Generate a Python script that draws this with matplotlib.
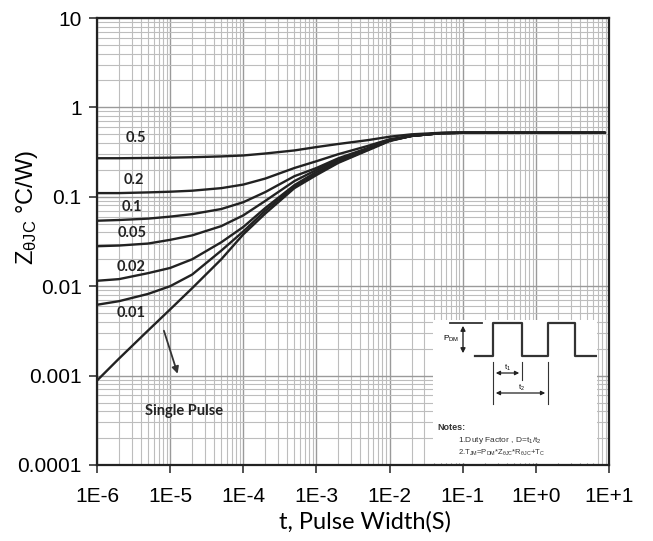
import matplotlib
matplotlib.use("Agg")
import matplotlib.pyplot as plt
from matplotlib.ticker import LogLocator, FixedLocator, NullFormatter
import numpy as np

# pulse width (s)
t = [1e-6, 2e-6, 5e-6, 1e-5, 2e-5, 5e-5, 1e-4, 2e-4, 5e-4, 1e-3, 2e-3, 5e-3,
     1e-2, 2e-2, 5e-2, 1e-1, 1, 8.8]

# transient thermal impedance for each duty factor
z_05 = [0.270, 0.270, 0.272, 0.274, 0.277, 0.283, 0.29, 0.305, 0.33, 0.36, 0.39, 0.43,
        0.47, 0.50, 0.52, 0.52, 0.52, 0.52]
z_02 = [0.110, 0.110, 0.112, 0.114, 0.117, 0.125, 0.137, 0.16, 0.21, 0.25, 0.30, 0.37,
        0.44, 0.48, 0.515, 0.52, 0.52, 0.52]
z_01 = [0.054, 0.055, 0.057, 0.060, 0.064, 0.073, 0.087, 0.113, 0.17, 0.21, 0.27, 0.35,
        0.43, 0.48, 0.515, 0.52, 0.52, 0.52]
z_005 = [0.028, 0.0285, 0.030, 0.033, 0.037, 0.047, 0.062, 0.09, 0.15, 0.20, 0.26, 0.345,
         0.43, 0.48, 0.515, 0.52, 0.52, 0.52]
z_002 = [0.0115, 0.012, 0.014, 0.016, 0.020, 0.031, 0.046, 0.075, 0.135, 0.19, 0.25, 0.34,
         0.425, 0.48, 0.515, 0.52, 0.52, 0.52]
z_001 = [0.0062, 0.0068, 0.0082, 0.010, 0.0135, 0.025, 0.041, 0.07, 0.13, 0.18, 0.245, 0.335,
         0.425, 0.48, 0.515, 0.52, 0.52, 0.52]
z_single = [0.00088, 0.00155, 0.0032, 0.0055, 0.0095, 0.020, 0.038, 0.065, 0.125, 0.175, 0.24, 0.33,
            0.42, 0.48, 0.515, 0.52, 0.52, 0.52]

curves = [z_05, z_02, z_01, z_005, z_002, z_001, z_single]
duty_labels = ["0.5", "0.2", "0.1", "0.05", "0.02", "0.01"]
duty_label_pos = [(3.4e-6, 0.46), (3.2e-6, 0.155), (3.0e-6, 0.076), (3.0e-6, 0.039),
                  (2.95e-6, 0.0162), (2.95e-6, 0.0050)]

xticks = [1e-6, 1e-5, 1e-4, 1e-3, 1e-2, 1e-1, 1, 10]
xticklabels = ["1E-6", "1E-5", "1E-4", "1E-3", "1E-2", "1E-1", "1E+0", "1E+1"]
yticks = [1e-4, 1e-3, 1e-2, 1e-1, 1, 10]
yticklabels = ["0.0001", "0.001", "0.01", "0.1", "1", "10"]

plt.rcParams['mathtext.fontset'] = 'custom'
plt.rcParams['mathtext.rm'] = 'Liberation Sans'
plt.rcParams['mathtext.it'] = 'Liberation Sans'

fig = plt.figure(figsize=(6.53, 5.41), dpi=100)
ax = fig.add_axes([97/653, 1 - 465/541, 512/653, 447/541])
ax.set_xscale('log')
ax.set_yscale('log')
ax.set_xlim(1e-6, 10)
ax.set_ylim(1e-4, 10)

for z in curves:
    ax.plot(t, z, color='#222222', lw=1.7, solid_capstyle='round')

ax.xaxis.set_major_locator(FixedLocator(xticks))
ax.yaxis.set_major_locator(FixedLocator(yticks))
ax.xaxis.set_minor_locator(LogLocator(base=10, subs=np.arange(2, 10)))
ax.yaxis.set_minor_locator(LogLocator(base=10, subs=np.arange(2, 10)))
ax.xaxis.set_minor_formatter(NullFormatter())
ax.yaxis.set_minor_formatter(NullFormatter())
ax.set_xticklabels(xticklabels, fontsize=15, family='Liberation Sans')
ax.set_yticklabels(yticklabels, fontsize=15, family='Liberation Sans')
ax.tick_params(which='major', length=6, width=1.2, color='#333333')
ax.tick_params(axis='x', which='major', pad=10)
ax.tick_params(axis='y', which='major', pad=5)
ax.tick_params(which='minor', length=0)
ax.grid(which='major', color='#9a9a9a', lw=1.0)
ax.grid(which='minor', color='#bdbdbd', lw=0.8)
ax.set_axisbelow(True)
for s in ax.spines.values():
    s.set_linewidth(1.6)
    s.set_color('#222222')

ax.set_xlabel("t, Pulse Width(S)", fontsize=17, family='Lato')
ax.xaxis.set_label_coords(0.523, -0.103)
ax.set_ylabel(r"Z$_{\mathregular{\theta JC}}$ °C/W)", fontsize=17, family='Liberation Sans')
ax.yaxis.set_label_coords(-0.137, 0.577)
ax.yaxis.label.set_va('center')

for lab, (x, y) in zip(duty_labels, duty_label_pos):
    ax.text(x, y, lab, fontsize=10.5, fontweight='bold', family='Lato',
            ha='center', va='center', color='#222222')
ax.text(1.55e-5, 0.0004, "Single Pulse", fontsize=10.5, fontweight='bold', family='Lato',
        ha='center', va='center', color='#222222')
ax.annotate("", xy=(1.3e-5, 0.00098), xytext=(8.0e-6, 0.0034),
            arrowprops=dict(arrowstyle='-|>', color='#333333', lw=1.3, mutation_scale=10))

# pulse diagram inset (drawn in pixel units)
ins = fig.add_axes([433/653, 1 - 463/541, 164/653, 143/541])
ins.set_xlim(433, 597)
ins.set_ylim(463, 320)
ins.set_facecolor('white')
ins.set_xticks([])
ins.set_yticks([])
for s in ins.spines.values():
    s.set_visible(False)

wave_x = [475, 493, 493, 522, 522, 548, 548, 575, 575, 597]
wave_y = [356, 356, 323, 323, 356, 356, 323, 323, 356, 356]
ins.plot(wave_x, wave_y, color='#333333', lw=1.6)
ins.plot([450, 482], [323, 323], color='#333333', lw=1.3)
ins.annotate("", xy=(463, 323), xytext=(463, 356),
             arrowprops=dict(arrowstyle='<|-|>', color='#222222', lw=1.0, mutation_scale=7))
ins.text(443, 339, r"P$_{\mathregular{DM}}$", fontsize=6, family='Liberation Sans', va='center')
ins.plot([493, 493], [362, 404], color='#333333', lw=0.8)
ins.plot([522, 522], [362, 380], color='#333333', lw=0.8)
ins.plot([548, 548], [362, 404], color='#333333', lw=0.8)
ins.annotate("", xy=(493, 373), xytext=(522, 373),
             arrowprops=dict(arrowstyle='<|-|>', color='#222222', lw=0.9, mutation_scale=6))
ins.annotate("", xy=(493, 393), xytext=(548, 393),
             arrowprops=dict(arrowstyle='<|-|>', color='#222222', lw=0.9, mutation_scale=6))
ins.text(507, 368, r"t$_{\mathregular{1}}$", fontsize=5.5, family='Liberation Sans', ha='center', va='center')
ins.text(521, 388, r"t$_{\mathregular{2}}$", fontsize=5.5, family='Liberation Sans', ha='center', va='center')
ins.text(437, 428, "Notes:", fontsize=6.5, fontweight='bold', family='Liberation Sans', va='center', color='#333333')
ins.text(458, 440, r"1.Duty Factor , D=t$_{\mathregular{1}}$/t$_{\mathregular{2}}$",
         fontsize=6, family='Liberation Sans', va='center', color='#333333')
ins.text(458, 453, r"2.T$_{\mathregular{JM}}$=P$_{\mathregular{DM}}$*Z$_{\mathregular{\theta JC}}$*R$_{\mathregular{\theta JC}}$+T$_{\mathregular{C}}$",
         fontsize=5.5, family='Liberation Sans', va='center', color='#333333')

fig.savefig("out.png", dpi=100)
